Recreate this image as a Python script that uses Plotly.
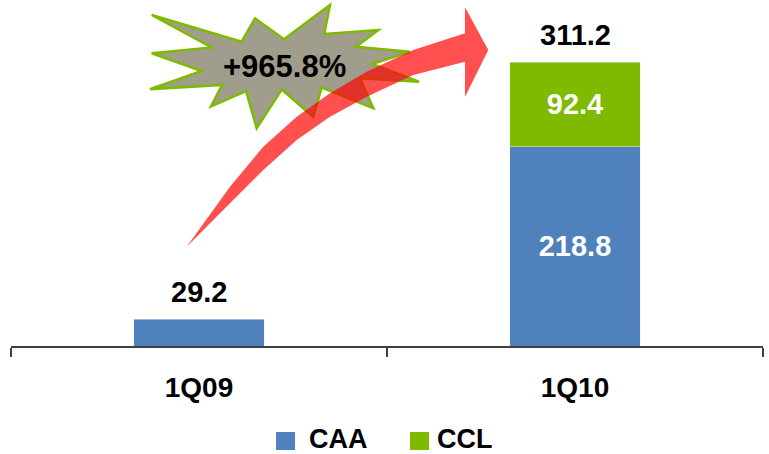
import plotly.graph_objects as go

# Quarterly values (two business lines, stacked)
quarters = ["1Q09", "1Q10"]
caa = [29.2, 218.8]
ccl = [None, 92.4]
growth_label = "+965.8%"

series_names = ["CAA", "CCL"]
series_colors = ["#4F81BD", "#7FBA00"]

FONT = "Arial, Liberation Sans, sans-serif"
W, H = 769, 454
ML, MR, MT, MB = 11, 6, 27, 108
PW, PH = W - ML - MR, H - MT - MB


def px(x, y):
    """Pixel position on the page -> paper coordinates."""
    return (x - ML) / PW, (H - MB - y) / PH


def path_from(points, closed=True):
    pts = [px(x, y) for x, y in points]
    d = "M " + " L ".join(f"{a:.5f},{b:.5f}" for a, b in pts)
    return d + (" Z" if closed else "")


totals = [a + (b or 0) for a, b in zip(caa, ccl)]

fig = go.Figure()
fig.add_trace(go.Bar(
    x=quarters, y=caa, name=series_names[0], marker_color=series_colors[0],
    text=[f"{v:.1f}" if c is not None else "" for v, c in zip(caa, ccl)],
    textposition="inside", insidetextanchor="middle", constraintext="none",
    textfont=dict(family=FONT, size=29, color="white", weight="bold"),
    showlegend=False,
))
fig.add_trace(go.Bar(
    x=quarters, y=ccl, name=series_names[1], marker_color=series_colors[1],
    text=[f"{v:.1f}" if v is not None else "" for v in ccl],
    textposition="inside", insidetextanchor="middle", constraintext="none",
    textfont=dict(family=FONT, size=29, color="white", weight="bold"),
    showlegend=False,
))

# Totals above each stack
for q, t in zip(quarters, totals):
    fig.add_annotation(
        x=q, y=t, xref="x", yref="y", text=f"{t:.1f}", showarrow=False,
        yanchor="bottom", yshift=9,
        font=dict(family=FONT, size=29, color="black", weight="bold"),
    )

# Starburst callout with the growth figure
burst = [
    (151.7, 15), (241.7, 41.7), (255, 18.3), (284, 39.3), (330, 5),
    (324.3, 34), (378.3, 30), (356, 46.7), (410, 51.7), (372, 64),
    (419, 81.7), (360, 78.3), (373.3, 108.3), (321.7, 87.5), (313.3, 117),
    (281.7, 89.5), (256.7, 128.3), (246, 91), (211, 106.5), (222, 85),
    (150, 89.3), (201.7, 71), (151.7, 53.3), (211.7, 47.5),
]
fig.add_shape(type="path", path=path_from(burst), xref="paper", yref="paper",
              fillcolor="#A09D8D", line=dict(color="#7FBA00", width=2.5),
              layer="above")
bx, by = px(284.5, 66)
fig.add_annotation(x=bx, y=by, xref="paper", yref="paper", text=growth_label,
                   showarrow=False, xanchor="center", yanchor="middle",
                   font=dict(family=FONT, size=31, color="black", weight="bold"))

# Curved growth arrow
upper = [(465, 33.3), (413.3, 50), (366.7, 71.7), (330, 93.3), (296.7, 116.7),
         (263.3, 146.7), (230, 186.7), (186.7, 246.7)]
lower = [(230, 203.3), (263.3, 170), (296.7, 140), (330, 116.7),
         (366.7, 96.7), (413.3, 75), (465, 61.7)]
head = [(465, 96.7), (488.3, 50), (465, 7.3)]
fig.add_shape(type="path", path=path_from(upper + lower + head),
              xref="paper", yref="paper",
              fillcolor="rgba(255,0,0,0.69)", line=dict(width=0), layer="above")

# Legend drawn as swatches + labels
legend_items = [(276, 307), (410, 435)]
for (sx, tx), name, color in zip(legend_items, series_names, series_colors):
    x0, y0 = px(sx, 450)
    x1, y1 = px(sx + 19, 432)
    fig.add_shape(type="rect", xref="paper", yref="paper", x0=x0, y0=y0,
                  x1=x1, y1=y1, fillcolor=color, line=dict(width=0))
    lx, ly = px(tx, 439)
    fig.add_annotation(x=lx, y=ly, xref="paper", yref="paper", text=name,
                       showarrow=False, xanchor="left", yanchor="middle",
                       font=dict(family=FONT, size=27, color="black",
                                 weight="bold"))

fig.update_layout(
    width=W, height=H, margin=dict(l=ML, r=MR, t=MT, b=MB),
    barmode="stack", bargap=0.654,
    plot_bgcolor="white", paper_bgcolor="white", showlegend=False,
    font=dict(family=FONT),
)
fig.update_xaxes(
    showline=True, linecolor="#404040", linewidth=1.5,
    ticks="outside", tickson="boundaries", ticklen=9, tickwidth=1.5,
    tickcolor="#404040", ticklabelstandoff=16,
    tickfont=dict(family=FONT, size=28, color="black", weight="bold"),
    showgrid=False, zeroline=False,
)
fig.update_yaxes(range=[0, 350], visible=False, showgrid=False)

fig.write_html("out.html")
